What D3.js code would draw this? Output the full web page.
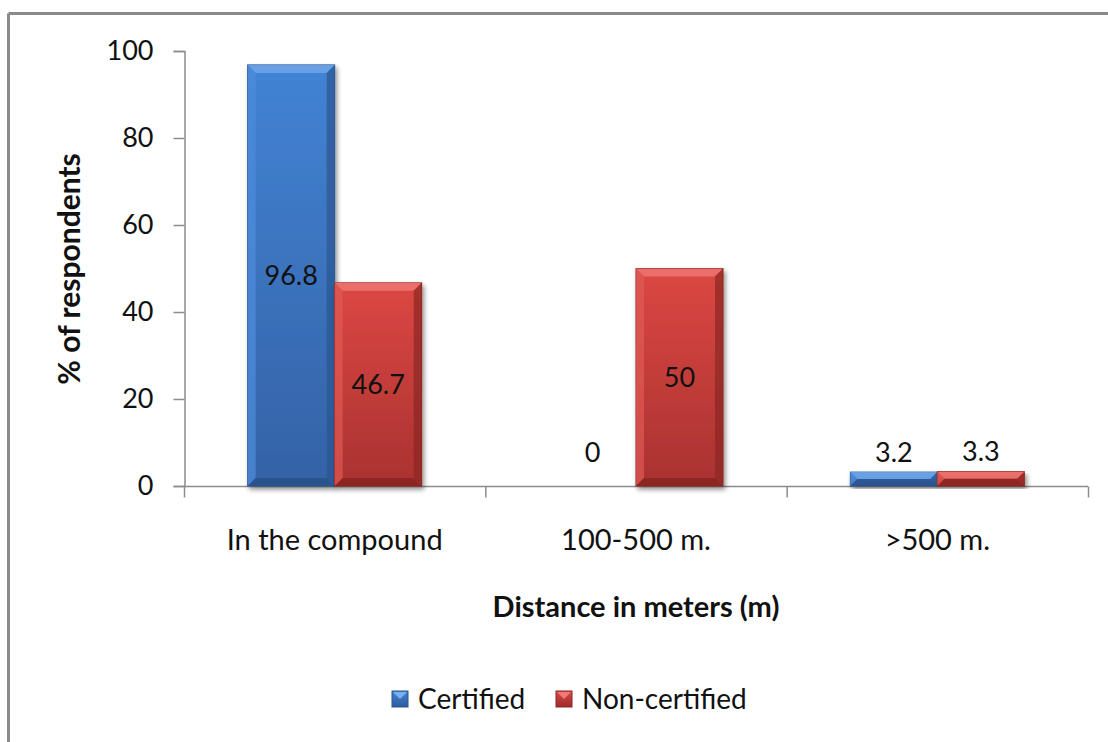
<!DOCTYPE html>
<html><head><meta charset="utf-8">
<script src="https://cdn.jsdelivr.net/npm/d3@7"></script>
<style>
html,body{margin:0;padding:0;background:#fff;}
text{font-family:Lato, "Open Sans", sans-serif;fill:#111;}
</style></head>
<body>
<svg id="chart" width="1108" height="742"></svg>
<script>
const categories = ["In the compound", "100-500 m.", ">500 m."];
const seriesNames = ["Certified", "Non-certified"];
const certified = [96.8, 0, 3.2];
const nonCertified = [46.7, 50, 3.3];
const yTicks = [0, 20, 40, 60, 80, 100];

const svg = d3.select("#chart");
const x0 = d3.scaleBand().domain(categories).range([184, 1088]).paddingInner(0).paddingOuter(0);
const y = d3.scaleLinear().domain([0,100]).range([486, 51]);
const gw = x0.bandwidth();
const barW = 87;
const x1 = d3.scaleBand().domain(seriesNames).range([gw/2 - barW, gw/2 + barW]);

const defs = svg.append("defs");
function grad(id, c1, c2){
  const g = defs.append("linearGradient").attr("id", id).attr("x1",0).attr("x2",0).attr("y1",0).attr("y2",1);
  g.append("stop").attr("offset","0%").attr("stop-color", c1);
  g.append("stop").attr("offset","100%").attr("stop-color", c2);
}
grad("gBlue", "#4283d4", "#3462a6");
grad("gRed", "#dc4743", "#a93230");
grad("gBlueL", "#4283d4", "#2f5b9e");
grad("gRedL", "#dc4743", "#9e2c2a");
const f = defs.append("filter").attr("id","shadow").attr("x","-10%").attr("y","-10%").attr("width","130%").attr("height","130%");
f.append("feGaussianBlur").attr("in","SourceAlpha").attr("stdDeviation",2.5);
f.append("feOffset").attr("dx",2).attr("dy",3).attr("result","ob");
f.append("feComponentTransfer").append("feFuncA").attr("type","linear").attr("slope",0.45);
const mg = f.append("feMerge"); mg.append("feMergeNode"); mg.append("feMergeNode").attr("in","SourceGraphic");

// frame
svg.append("line").attr("x1",8.5).attr("x2",1108).attr("y1",13.5).attr("y2",13.5).attr("stroke","#8a8a8a").attr("stroke-width",3);
svg.append("line").attr("x1",8.5).attr("x2",8.5).attr("y1",13.5).attr("y2",742).attr("stroke","#8a8a8a").attr("stroke-width",3);

// axes
const yAxis = svg.append("g").attr("transform","translate(184.5,0)")
  .call(d3.axisLeft(y).tickValues(yTicks).tickSize(11).tickPadding(20).tickFormat(d3.format("d")));
yAxis.select(".domain").attr("stroke","#8c8c8c").attr("stroke-width",1.5);
yAxis.selectAll(".tick line").attr("stroke","#8c8c8c").attr("stroke-width",1.5);
yAxis.selectAll("text").style("font-size","27px").attr("fill","#111");

const xg = svg.append("g").attr("transform","translate(0,486.5)");
xg.append("line").attr("x1",184).attr("x2",1088).attr("stroke","#8c8c8c").attr("stroke-width",1.5);
const bounds = categories.map(c => x0(c)).concat([x0(categories[categories.length-1]) + gw]);
xg.selectAll(".xt").data(bounds).join("line")
  .attr("x1", d=>d+0.5).attr("x2", d=>d+0.5).attr("y1",0).attr("y2",11)
  .attr("stroke","#8c8c8c").attr("stroke-width",1.5);
xg.selectAll(".xl").data(categories).join("text")
  .attr("x", d=>x0(d)+gw/2).attr("y", 63.5).attr("text-anchor","middle")
  .style("font-size","29px").text(d=>d);

// bars
const data = categories.map((c,i)=>({c, vals:[{s:seriesNames[0], v:certified[i]},{s:seriesNames[1], v:nonCertified[i]}]}));
const groups = svg.selectAll(".grp").data(data).join("g").attr("transform", d=>`translate(${x0(d.c)},0)`);
function bevelBar(g, d, i){
  const bx = x1(d.s), by = y(d.v), bh = y(0) - y(d.v);
  if (bh <= 0) return;
  const blue = i===0;
  const gg = g.append("g").attr("filter","url(#shadow)");
  gg.append("rect").attr("x",bx).attr("y",by).attr("width",barW).attr("height",bh)
    .attr("fill", blue ? "url(#gBlue)" : "url(#gRed)")
    .attr("stroke", blue ? "#2d5590" : "#8e2725").attr("stroke-width",1);
  const b = Math.min(8, bh/2);
  gg.append("path").attr("d", `M${bx},${by}L${bx+barW},${by}L${bx+barW-b},${by+b}L${bx+b},${by+b}Z`)
    .attr("fill", blue ? "#6ea6ea" : "#ef7672").attr("opacity",0.85);
  gg.append("path").attr("d", `M${bx},${by}L${bx+b},${by+b}L${bx+b},${by+bh-b}L${bx},${by+bh}Z`)
    .attr("fill", blue ? "#4f8ddb" : "#e05a56").attr("opacity",0.7);
  gg.append("path").attr("d", `M${bx+barW},${by}L${bx+barW-b},${by+b}L${bx+barW-b},${by+bh-b}L${bx+barW},${by+bh}Z`)
    .attr("fill", blue ? "#2b5590" : "#8c2624").attr("opacity",0.7);
  gg.append("path").attr("d", `M${bx},${by+bh}L${bx+b},${by+bh-b}L${bx+barW-b},${by+bh-b}L${bx+barW},${by+bh}Z`)
    .attr("fill", blue ? "#2a5088" : "#862422").attr("opacity",0.8);
}
groups.each(function(d){
  const g = d3.select(this);
  d.vals.forEach((v,i)=>bevelBar(g, v, i));
});
// labels
groups.each(function(d){
  const g = d3.select(this);
  d.vals.forEach(v=>{
    const bh = y(0)-y(v.v);
    const inside = bh > 40;
    const ly = inside ? (y(v.v)+y(0))/2 : Math.min(y(v.v) - 20, y(0) - 34);
    g.append("text").attr("x", x1(v.s)+barW/2).attr("y", ly).attr("dy","0.36em")
      .attr("text-anchor","middle").style("font-size","27px").text(d3.format("")(v.v));
  });
});

// axis titles
svg.append("text").attr("x", 636).attr("y", 617).attr("text-anchor","middle")
  .style("font-size","29px").style("font-weight","bold").text("Distance in meters (m)");
svg.append("text").attr("transform","translate(80,269) rotate(-90)").attr("text-anchor","middle")
  .style("font-size","30px").style("font-weight","bold").text("% of respondents");

// legend
const legend = svg.append("g").attr("transform","translate(392,691)");
const lx = [0, 164];
seriesNames.forEach((s,i)=>{
  const lg = legend.append("g").attr("transform",`translate(${lx[i]},0)`);
  lg.append("rect").attr("width",16).attr("height",16).attr("fill", i===0?"url(#gBlueL)":"url(#gRedL)")
    .attr("stroke", i===0?"#2d5590":"#8e2725");
  lg.append("path").attr("d","M1,1L15,1L8,8Z").attr("fill", i===0?"#7ab0ee":"#f07a76");
  lg.append("text").attr("x",26).attr("y",8).attr("dy","0.36em").style("font-size","28px").text(s);
});
</script>
</body></html>
